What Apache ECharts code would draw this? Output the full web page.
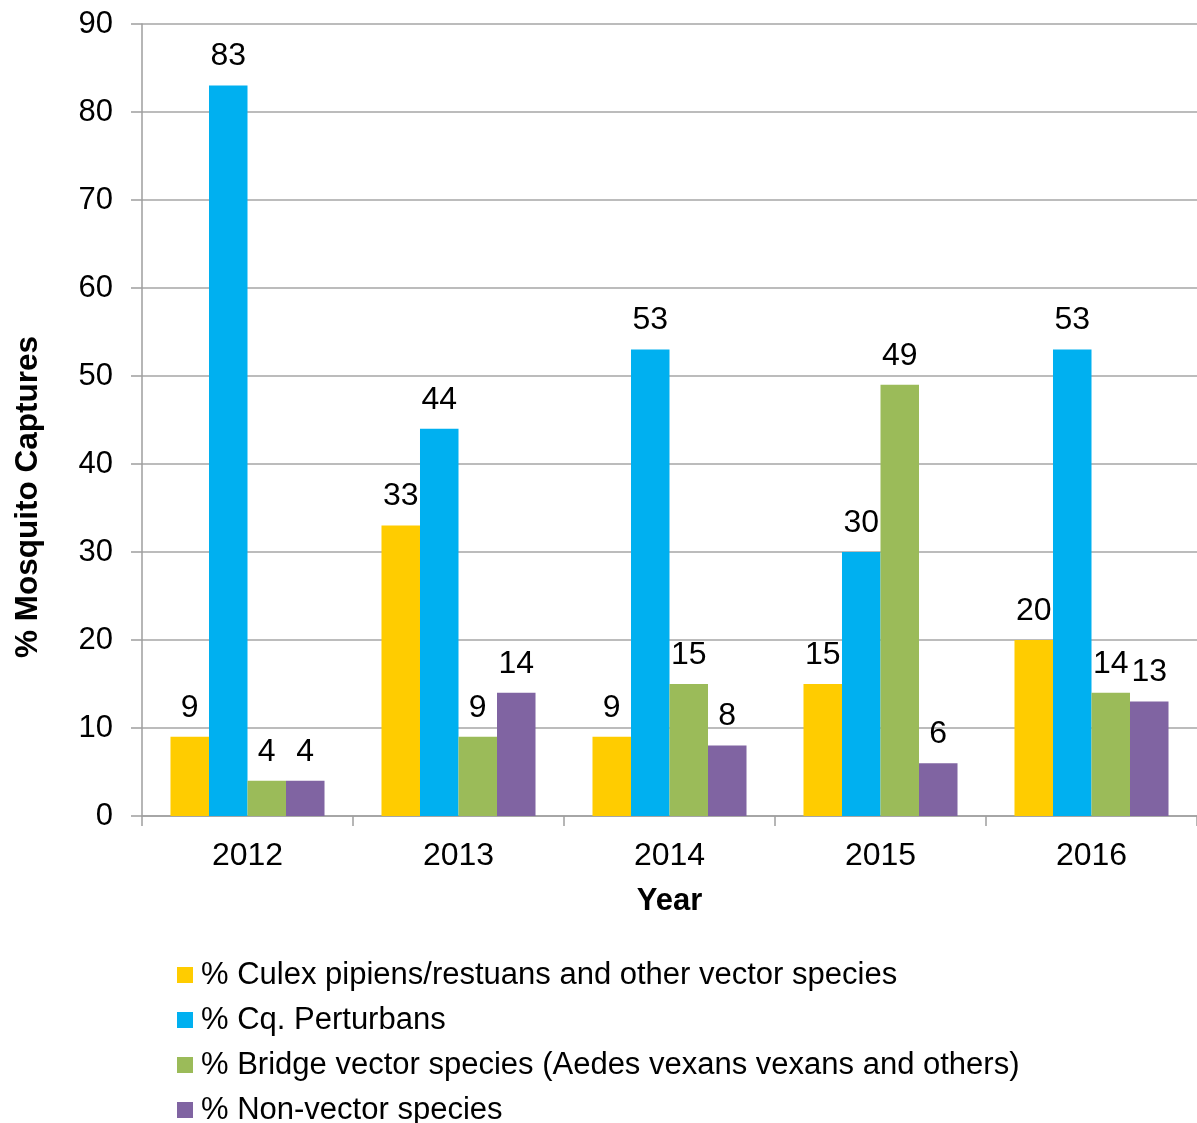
<!DOCTYPE html>
<html>
<head>
<meta charset="utf-8">
<script src="https://cdn.jsdelivr.net/npm/echarts@6/dist/echarts.min.js"></script>
<style>
  html, body { margin: 0; padding: 0; background: #fff; }
  #chart { width: 1197px; height: 1123px; }
</style>
</head>
<body>
<div id="chart"></div>
<script>
// years on the x axis
const years = ['2012', '2013', '2014', '2015', '2016'];

// % of mosquito captures per group
const culex = [9, 33, 9, 15, 20];
const perturbans = [83, 44, 53, 30, 53];
const bridge = [4, 9, 15, 49, 14];
const nonVector = [4, 14, 8, 6, 13];

const seriesNames = [
  '% Culex pipiens/restuans and other vector species',
  '% Cq. Perturbans',
  '% Bridge vector species (Aedes vexans vexans and others)',
  '% Non-vector species'
];

const FONT = 'Liberation Sans, Arial, sans-serif';
const colors = ['#FFCC00', '#00B0F0', '#9BBB59', '#8064A2'];

const chart = echarts.init(document.getElementById('chart'));

function bar(name, data, color) {
  return {
    name: name,
    type: 'bar',
    data: data,
    barGap: 0,
    barCategoryGap: '27%',
    itemStyle: { color: color },
    label: {
      show: true,
      position: 'top',
      distance: 13,
      color: '#000',
      fontSize: 32,
      fontFamily: FONT
    }
  };
}

const option = {
  animation: false,
  backgroundColor: '#fff',
  color: colors,
  grid: {
    left: 142,
    top: 24,
    width: 1061,
    height: 792
  },
  xAxis: {
    type: 'category',
    data: years,
    name: 'Year',
    nameLocation: 'middle',
    nameGap: 70,
    nameTextStyle: { fontSize: 31, fontWeight: 'bold', color: '#000', fontFamily: FONT },
    axisLine: { lineStyle: { color: '#9e9e9e', width: 1.5 } },
    axisTick: { show: true, length: 10, lineStyle: { color: '#9e9e9e', width: 1.5 } },
    axisLabel: { margin: 24, fontSize: 32, color: '#000', fontFamily: FONT }
  },
  yAxis: {
    type: 'value',
    min: 0,
    max: 90,
    interval: 10,
    axisLine: { show: true, lineStyle: { color: '#9e9e9e', width: 1.5 } },
    axisTick: { show: true, length: 11, lineStyle: { color: '#9e9e9e', width: 1.5 } },
    axisLabel: { margin: 29, fontSize: 31, color: '#000', fontFamily: FONT },
    splitLine: { lineStyle: { color: '#a6a6a6', width: 1.5 } }
  },
  legend: {
    orient: 'vertical',
    left: 172,
    top: 954,
    height: 300,
    icon: 'rect',
    itemWidth: 16,
    itemHeight: 16,
    itemGap: 13,
    textStyle: { fontSize: 31, lineHeight: 32, color: '#000', fontFamily: FONT, padding: [0, 0, 0, 3] },
    data: seriesNames
  },
  graphic: [{
    type: 'text',
    left: 12,
    top: 336,
    rotation: Math.PI / 2,
    style: {
      text: '% Mosquito Captures',
      fontSize: 31.5,
      fontWeight: 'bold',
      fill: '#000',
      fontFamily: FONT
    }
  }],
  series: [
    bar(seriesNames[0], culex, colors[0]),
    bar(seriesNames[1], perturbans, colors[1]),
    bar(seriesNames[2], bridge, colors[2]),
    bar(seriesNames[3], nonVector, colors[3])
  ]
};

chart.setOption(option);
</script>
</body>
</html>
